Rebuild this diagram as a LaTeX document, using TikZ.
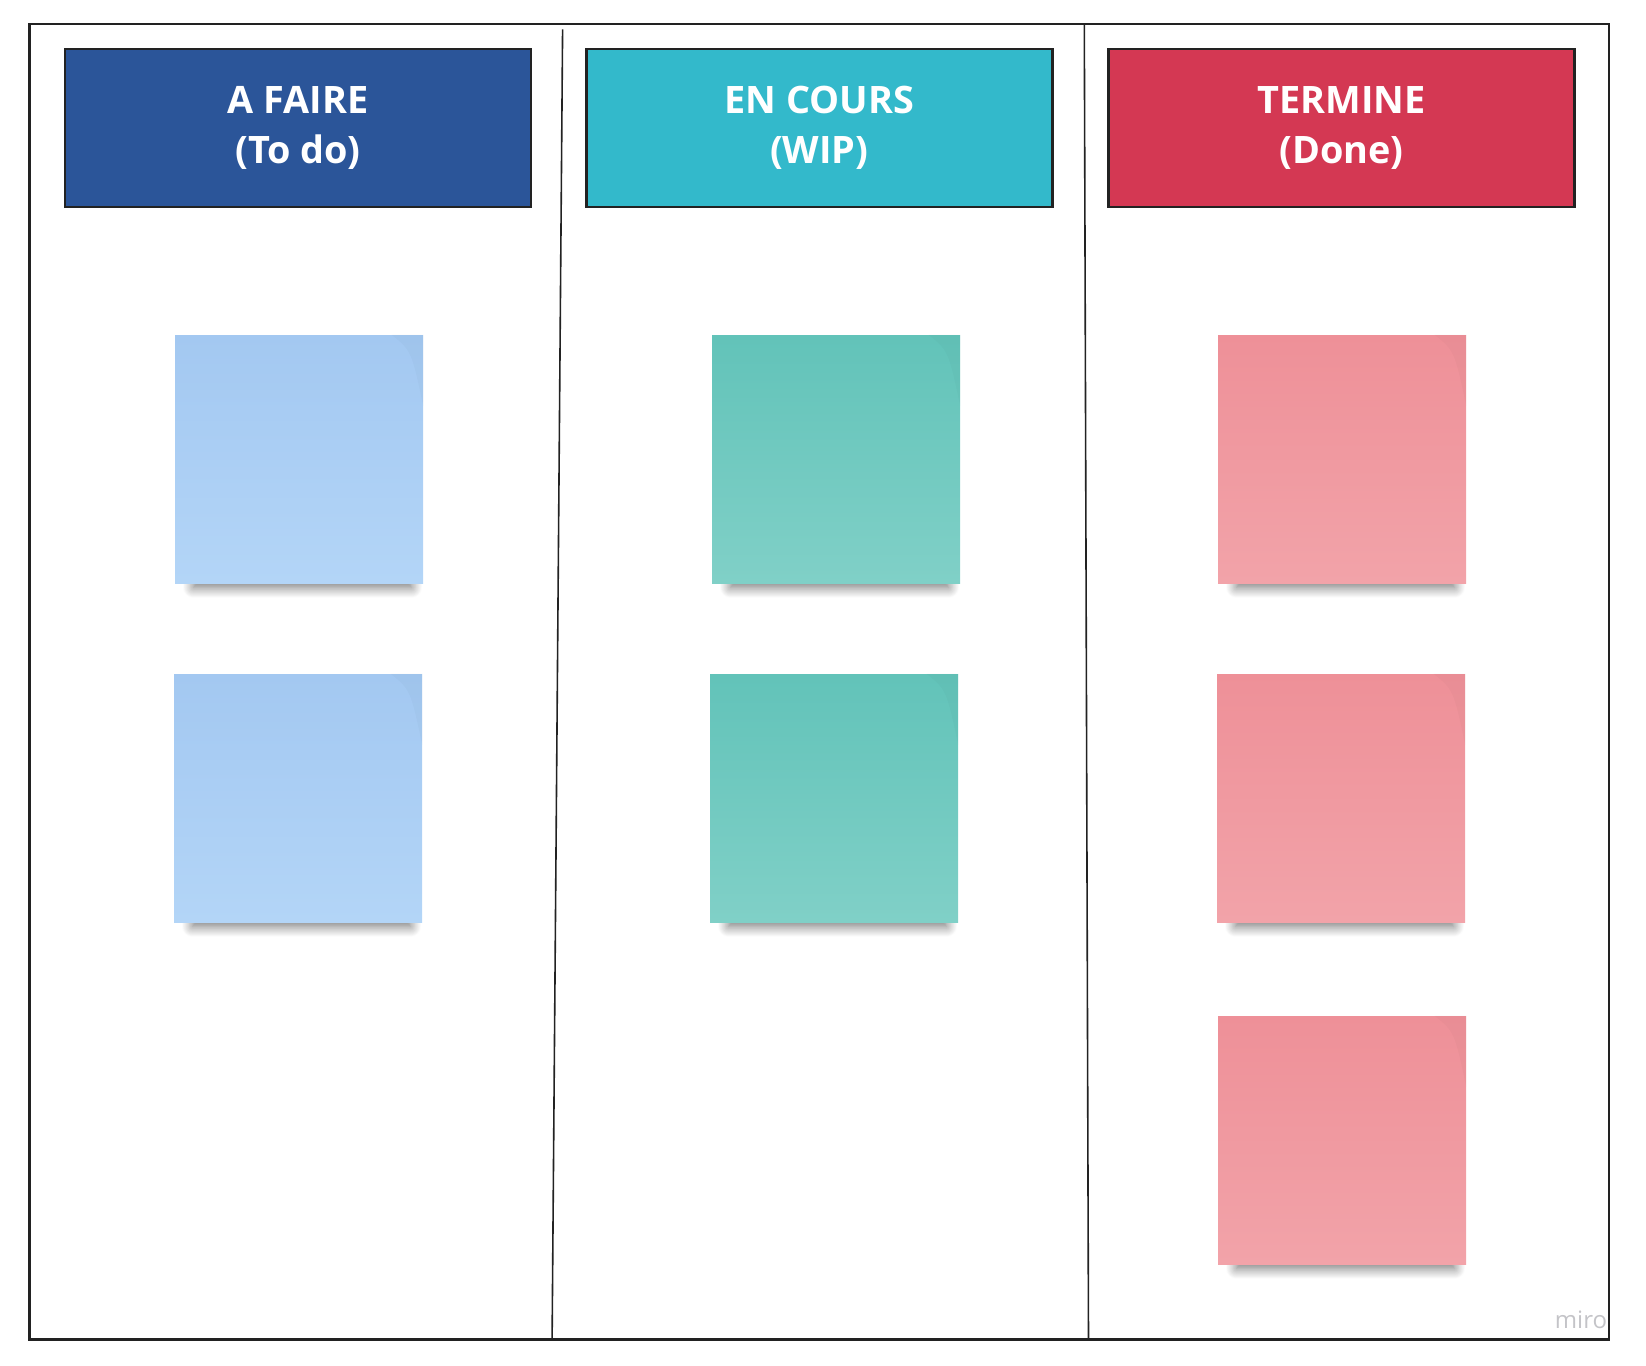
\documentclass[tikz,border=0pt]{standalone}
\usepackage{fontspec}
\newfontfamily\headfont{Open Sans}
\usetikzlibrary{shadows.blur}
\definecolor{framedark}{HTML}{222222}
\definecolor{todoblue}{HTML}{2B5599}
\definecolor{wipteal}{HTML}{33B9CB}
\definecolor{donered}{HTML}{D43853}
\definecolor{bluetop}{HTML}{A3C8F1}
\definecolor{bluebot}{HTML}{B3D5F7}
\definecolor{tealtop}{HTML}{62C3B9}
\definecolor{tealbot}{HTML}{80D0C7}
\definecolor{redtop}{HTML}{EE9098}
\definecolor{redbot}{HTML}{F2A3A9}
\definecolor{mirogray}{HTML}{C4C4C8}
\begin{document}
\begin{tikzpicture}[x=0.5pt,y=-0.5pt,
  frameline/.style={draw=framedark, line width=1.1pt},
  divider/.style={draw=framedark, line width=0.8pt},
  header/.style={draw=framedark, line width=1.2pt, minimum width=233pt, minimum height=78.75pt,
    inner sep=0pt, align=center, text=white,
    font=\headfont\bfseries\fontsize{18.9}{25.2}\selectfont},
  sticky/.style={minimum width=124pt, minimum height=124pt, inner sep=0pt,
    blur shadow={shadow xshift=2pt, shadow yshift=-11pt, shadow scale=0.88,
      shadow blur radius=6pt, shadow blur steps=12, shadow opacity=55}},
  bluenote/.style={sticky, top color=bluetop, bottom color=bluebot},
  tealnote/.style={sticky, top color=tealtop, bottom color=tealbot},
  rednote/.style={sticky, top color=redtop, bottom color=redbot},
  fold/.style={fill=black, opacity=0.018},
]
\useasboundingbox (0,0) rectangle (1646,1366);

% outer frame and column dividers
\draw[frameline] (29.4,24.1) rectangle (1609.2,1339.4);
\coordinate (d1top) at (562.6,29.4);
\coordinate (d1bot) at (552.1,1339.4);
\coordinate (d2top) at (1084.3,24.1);
\coordinate (d2bot) at (1088.5,1339.4);
\draw[divider] (d1top) -- (d1bot);
\draw[divider] (d2top) -- (d2bot);

% headers
\node[header, fill=todoblue] (todo) at (298.1,128) {A FAIRE\\(To do)};
\node[header, fill=wipteal]  (wip)  at (819.3,128) {EN COURS\\(WIP)};
\node[header, fill=donered]  (done) at (1341.6,128) {TERMINE\\(Done)};

% sticky notes
\node[bluenote] (b1) at (299,459) {};
\node[bluenote] (b2) at (298,798) {};
\node[tealnote] (t1) at (836,459) {};
\node[tealnote] (t2) at (834,798) {};
\node[rednote]  (r1) at (1342,459) {};
\node[rednote]  (r2) at (1341,798) {};
\node[rednote]  (r3) at (1342,1140) {};

% subtle folded corners
\foreach \n in {b1,b2,t1,t2,r1,r2,r3}{
  \fill[fold] (\n.north east) -- ([xshift=-16pt]\n.north east)
    .. controls ([xshift=-6pt,yshift=-8pt]\n.north east) .. ([yshift=-36pt]\n.north east) -- cycle;
}

% watermark
\node[text=mirogray, font=\headfont\fontsize{12}{14}\selectfont, inner sep=0pt] (miro) at (1581,1320) {miro};
\end{tikzpicture}
\end{document}
